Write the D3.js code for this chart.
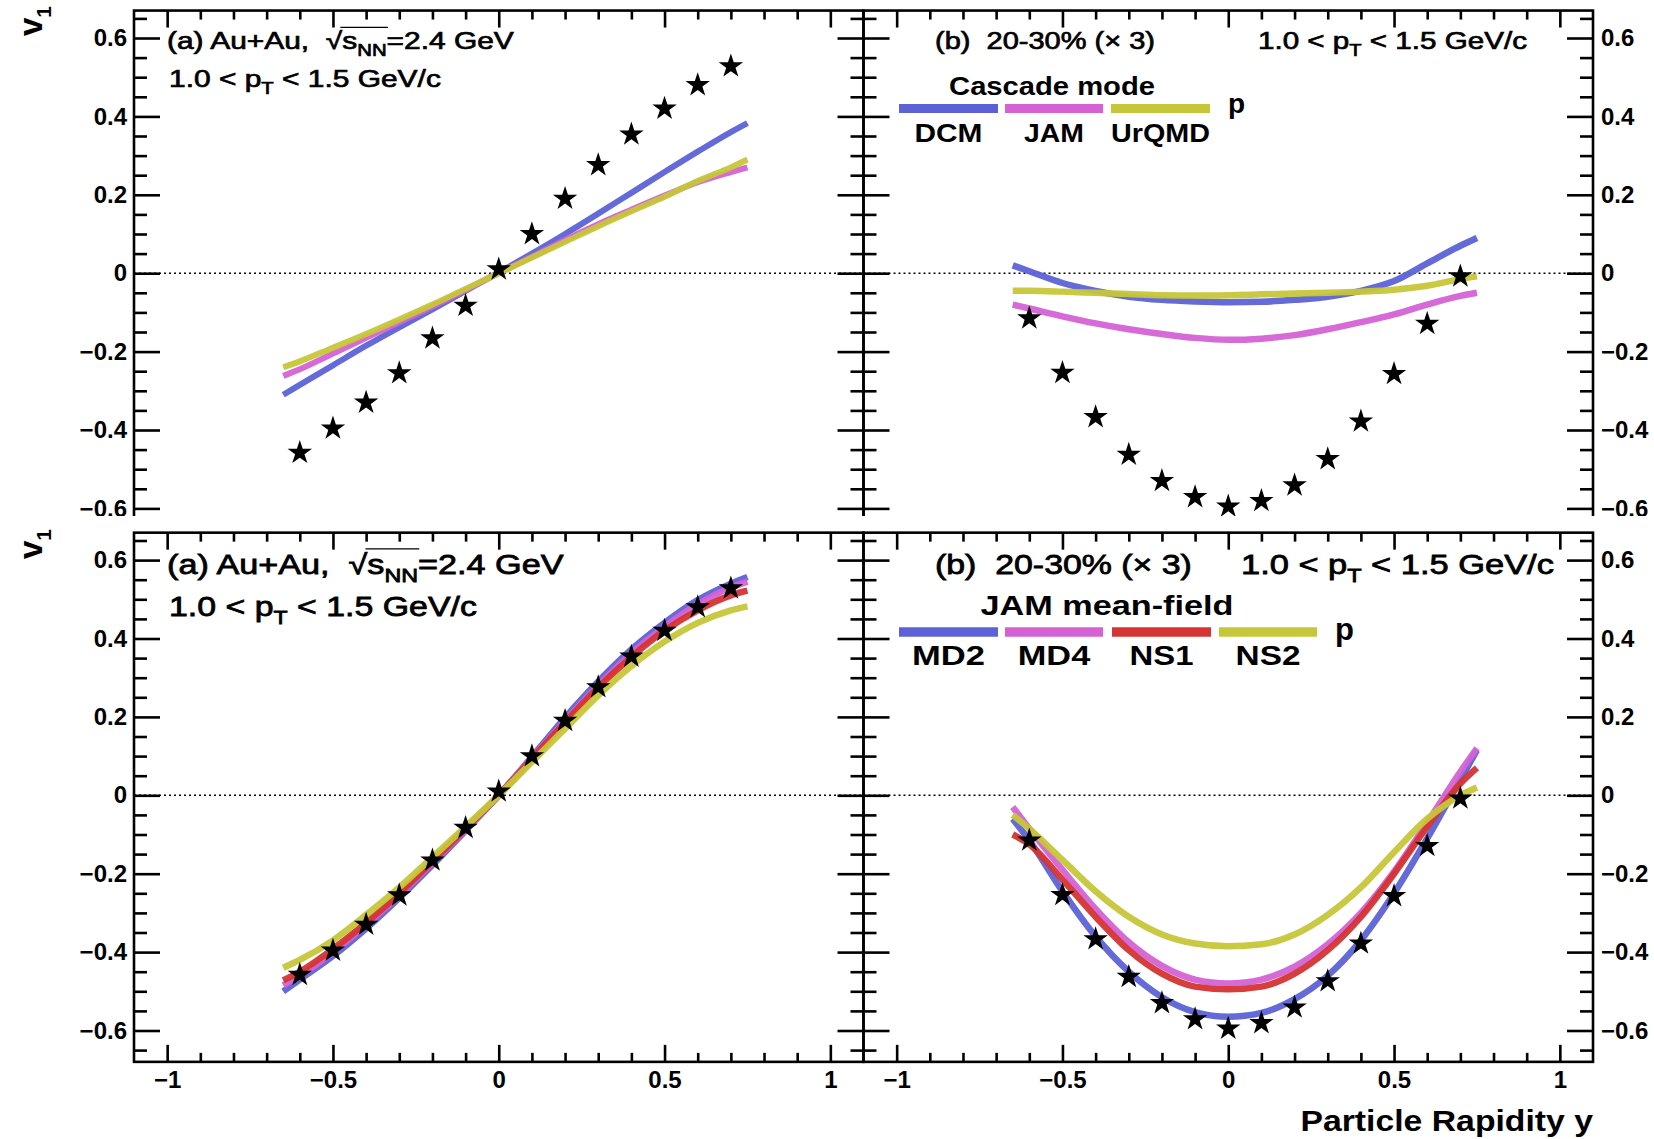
<!DOCTYPE html>
<html><head><meta charset="utf-8">
<script src="https://cdn.jsdelivr.net/npm/d3@7"></script>
<style>
html,body{margin:0;padding:0;background:#fff;}
svg{display:block;}
text{font-family:"Liberation Sans",Arial,Helvetica,sans-serif;}
</style></head><body>
<svg id="chart" width="1654" height="1139"></svg>
<script>
// ---------------- DATA ----------------
const rapidity = [-0.6,-0.5,-0.4,-0.3,-0.2,-0.1,0,0.1,0.2,0.3,0.4,0.5,0.6,0.7];
const starsPanelA = [-0.458,-0.396,-0.330,-0.255,-0.166,-0.083,0.010,0.100,0.190,0.276,0.354,0.420,0.480,0.528];
const starsPanelB = [-0.115,-0.254,-0.367,-0.463,-0.530,-0.571,-0.595,-0.581,-0.541,-0.474,-0.378,-0.257,-0.129,-0.008];

const modelRapidity = [-0.65,-0.6,-0.5,-0.4,-0.3,-0.2,-0.1,0,0.1,0.2,0.3,0.4,0.5,0.6,0.7,0.75];

// Cascade mode, panel (a)
const cascA_DCM   = [-0.310,-0.285,-0.235,-0.185,-0.138,-0.092,-0.045,0.002,0.050,0.100,0.152,0.205,0.258,0.310,0.360,0.383];
const cascA_JAM   = [-0.262,-0.245,-0.205,-0.165,-0.125,-0.085,-0.043,0.000,0.042,0.085,0.125,0.162,0.198,0.232,0.258,0.270];
const cascA_UrQMD = [-0.240,-0.225,-0.190,-0.155,-0.118,-0.080,-0.040,0.000,0.040,0.080,0.120,0.158,0.195,0.235,0.270,0.290];
// Cascade mode, panel (b)
const cascB_DCM   = [0.020,0.005,-0.025,-0.045,-0.060,-0.068,-0.072,-0.074,-0.073,-0.068,-0.060,-0.045,-0.020,0.025,0.070,0.090];
const cascB_JAM   = [-0.080,-0.090,-0.110,-0.128,-0.143,-0.155,-0.165,-0.170,-0.167,-0.158,-0.143,-0.125,-0.105,-0.080,-0.058,-0.050];
const cascB_UrQMD = [-0.045,-0.045,-0.047,-0.050,-0.053,-0.056,-0.057,-0.056,-0.054,-0.052,-0.050,-0.047,-0.042,-0.032,-0.015,-0.008];
// JAM mean-field, panel (a)
const mfA_MD2 = [-0.500,-0.470,-0.410,-0.340,-0.262,-0.178,-0.090,0.000,0.098,0.198,0.290,0.372,0.440,0.498,0.540,0.557];
const mfA_MD4 = [-0.485,-0.460,-0.400,-0.330,-0.255,-0.172,-0.087,0.000,0.095,0.190,0.280,0.362,0.430,0.487,0.530,0.545];
const mfA_NS1 = [-0.472,-0.450,-0.392,-0.325,-0.250,-0.168,-0.085,0.000,0.093,0.186,0.275,0.353,0.420,0.472,0.510,0.522];
const mfA_NS2 = [-0.440,-0.420,-0.370,-0.305,-0.235,-0.158,-0.080,0.000,0.085,0.170,0.255,0.330,0.392,0.440,0.472,0.482];
// JAM mean-field, panel (b)
const mfB_MD2 = [-0.060,-0.115,-0.245,-0.360,-0.450,-0.515,-0.553,-0.565,-0.555,-0.520,-0.460,-0.370,-0.250,-0.110,0.040,0.115];
const mfB_MD4 = [-0.030,-0.085,-0.190,-0.290,-0.375,-0.435,-0.470,-0.480,-0.470,-0.437,-0.380,-0.300,-0.195,-0.070,0.060,0.120];
const mfB_NS1 = [-0.100,-0.125,-0.215,-0.310,-0.395,-0.455,-0.488,-0.495,-0.488,-0.455,-0.395,-0.310,-0.200,-0.080,0.030,0.070];
const mfB_NS2 = [-0.050,-0.085,-0.165,-0.245,-0.310,-0.355,-0.378,-0.385,-0.380,-0.355,-0.305,-0.235,-0.145,-0.060,0.000,0.020];

const cascadeNames = ["DCM","JAM","UrQMD"];
const meanFieldNames = ["MD2","MD4","NS1","NS2"];
const yTickValues = [-0.6,-0.4,-0.2,0,0.2,0.4,0.6];
const xTickValues = [-1,-0.5,0,0.5,1];
const xDomain = [-1.1, 1.1];
const yDomain = [-0.68, 0.67];

// ---------------- STYLE / LAYOUT ----------------
const COL = {blue:"#5c62d6", magenta:"#d462d4", yellow:"#c6c63a", red:"#d43434"};
const cascColors = [COL.blue, COL.magenta, COL.yellow];
const mfColors = [COL.blue, COL.magenta, COL.red, COL.yellow];

const svg = d3.select("#chart");
const X0 = 134, XM = 863.5, X1 = 1593;
const PX = 392;
const rowZero = [273.2, 795.3];
const fmtY = d => d === 0 ? "0" : d3.format(".1f")(d);
const fmtX = d3.format("");
const NB = "\u00a0";

svg.append("defs").append("clipPath").attr("id","topclip")
  .append("rect").attr("x",0).attr("y",0).attr("width",1654).attr("height",516);

function richText(parent, parts, fs, weight, strokeW) {
  const t = parent.append("text").attr("font-size", fs).attr("font-weight", weight).attr("fill","#000");
  if (strokeW) t.attr("stroke","#000").attr("stroke-width",strokeW);
  let shift = 0;
  parts.forEach(p => {
    const ts = t.append("tspan").text(p.t);
    const target = p.sub ? fs*0.3 : 0;
    ts.attr("dy", target - shift);
    if (p.sub) ts.attr("font-size", fs*0.68);
    shift = target;
  });
  return t;
}
function place(parent, x, baseline, targetW, fs, parts, opts={}) {
  const g = parent.append("g");
  const t = richText(g, parts, fs, opts.weight || "normal", opts.stroke);
  if (opts.anchor) t.attr("text-anchor", opts.anchor);
  const w = t.node().getBBox().width;
  const s = targetW ? targetW / w : 1;
  g.attr("transform", `translate(${x},${baseline}) scale(${s},1)`);
  if (opts.overline) {
    const n = t.node();
    const a = n.getEndPositionOfChar(opts.overline[0]).x;
    const b = n.getEndPositionOfChar(opts.overline[1]).x + 1;
    g.append("line").attr("x1",a-1.5).attr("x2",b).attr("y1",-fs*0.9).attr("y2",-fs*0.9)
      .attr("stroke","#000").attr("stroke-width",1.3);
  }
  return g;
}

function drawPanel(root, row, side, series, colors, stars, lw, xLabels) {
  const xa = side === 0 ? X0 : XM, xb = side === 0 ? XM : X1;
  const x = d3.scaleLinear(xDomain, [xa, xb]);
  const z = rowZero[row];
  const y = d3.scaleLinear(yDomain, [z - yDomain[0]*PX, z - yDomain[1]*PX]);
  const [yb, yt] = y.range();
  const g = root.append("g");

  g.append("line").attr("x1",xa).attr("x2",xb).attr("y1",y(0)).attr("y2",y(0))
    .attr("stroke","#000").attr("stroke-width",1.5).attr("stroke-dasharray","2,3");

  const line = d3.line().x((d,i)=>x(modelRapidity[i])).y(d=>y(d)).curve(d3.curveMonotoneX);
  series.forEach((s,i) => {
    g.append("path").attr("d", line(s)).attr("fill","none")
      .attr("stroke", colors[i]).attr("stroke-width", lw).attr("stroke-linecap","butt")
      .attr("opacity",0.95);
  });

  const star = d3.symbol(d3.symbolStar).size(185);
  g.selectAll("path.star").data(stars).join("path").attr("class","star")
    .attr("d", star).attr("fill","#000")
    .attr("transform",(d,i)=>`translate(${x(rapidity[i])},${y(d)})`);

  const minorY = d3.range(-0.65, 0.66, 0.05).filter(v => Math.abs(Math.round(v*100) % 20) !== 0);
  const minorX = d3.range(-1.0, 1.05, 0.1).filter(v => Math.abs(Math.round(v*10) % 5) !== 0);
  const style = sel => {
    sel.select(".domain").remove();
    sel.selectAll(".tick line").attr("stroke","#000").attr("stroke-width",2.6);
    sel.selectAll(".tick text").attr("font-size",24).attr("font-weight","bold")
      .attr("font-family",'"Liberation Sans",Arial,sans-serif').attr("fill","#000");
  };
  g.append("g").attr("transform",`translate(${xa},0)`)
    .call(d3.axisLeft(y).tickValues(yTickValues).tickSize(-26).tickPadding(7)
      .tickFormat(side===0 ? fmtY : ()=>"")).call(style);
  g.append("g").attr("transform",`translate(${xa},0)`)
    .call(d3.axisLeft(y).tickValues(minorY).tickSize(-13).tickFormat(()=>"")).call(style);
  g.append("g").attr("transform",`translate(${xb},0)`)
    .call(d3.axisRight(y).tickValues(yTickValues).tickSize(-26).tickPadding(8)
      .tickFormat(side===1 ? fmtY : ()=>"")).call(style);
  g.append("g").attr("transform",`translate(${xb},0)`)
    .call(d3.axisRight(y).tickValues(minorY).tickSize(-13).tickFormat(()=>"")).call(style);
  g.append("g").attr("transform",`translate(0,${yt})`)
    .call(d3.axisTop(x).tickValues(xTickValues).tickSize(-17).tickFormat(()=>"")).call(style);
  g.append("g").attr("transform",`translate(0,${yt})`)
    .call(d3.axisTop(x).tickValues(minorX).tickSize(-9).tickFormat(()=>"")).call(style);
  g.append("g").attr("transform",`translate(0,${yb})`)
    .call(d3.axisBottom(x).tickValues(xTickValues).tickSize(-17).tickPadding(9)
      .tickFormat(xLabels ? fmtX : ()=>"")).call(style);
  g.append("g").attr("transform",`translate(0,${yb})`)
    .call(d3.axisBottom(x).tickValues(minorX).tickSize(-9).tickFormat(()=>"")).call(style);

  g.append("rect").attr("x",xa).attr("y",yt).attr("width",xb-xa).attr("height",yb-yt)
    .attr("fill","none").attr("stroke","#000").attr("stroke-width",2.6);
  return {x, y};
}

// ---------- Top row (cascade mode), clipped ----------
const topRow = svg.append("g").attr("clip-path","url(#topclip)");
drawPanel(topRow, 0, 0, [cascA_DCM, cascA_JAM, cascA_UrQMD], cascColors, starsPanelA, 6, false);
drawPanel(topRow, 0, 1, [cascB_DCM, cascB_JAM, cascB_UrQMD], cascColors, starsPanelB, 6.5, false);

// ---------- Bottom row (JAM mean-field) ----------
const botRow = svg.append("g");
drawPanel(botRow, 1, 0, [mfA_MD2, mfA_MD4, mfA_NS1, mfA_NS2], mfColors, starsPanelA, 6.5, true);
drawPanel(botRow, 1, 1, [mfB_MD2, mfB_MD4, mfB_NS1, mfB_NS2], mfColors, starsPanelB, 6.5, true);

// ---------- Texts ----------
const sqrtParts = [{t:"(a) Au+Au," + NB + NB},{t:"√"},{t:"s"},{t:"NN",sub:true},{t:"=2.4 GeV"}];
const ptParts = [{t:"1.0 < p"},{t:"T",sub:true},{t:" < 1.5 GeV/c"}];
const bParts = [{t:"(b)" + NB + NB + "20-30% (× 3)"}];

place(svg, 167, 49, 347, 24, sqrtParts, {stroke:0.7, overline:[12,15]});
place(svg, 169, 87, 272, 24, ptParts, {stroke:0.7});
place(svg, 935, 49, 220, 24, bParts, {stroke:0.7});
place(svg, 1258, 49, 269, 24, ptParts, {stroke:0.7});
place(svg, 1052, 95, 206, 25, [{t:"Cascade mode"}], {weight:"bold", anchor:"middle"});
place(svg, 1228, 113, null, 28, [{t:"p"}], {weight:"bold"});

place(svg, 167, 574, 397, 28, sqrtParts, {stroke:0.8, overline:[12,15]});
place(svg, 169, 616, 308, 28, ptParts, {stroke:0.8});
place(svg, 935, 574, 257, 28, bParts, {stroke:0.8});
place(svg, 1241, 574, 313, 28, ptParts, {stroke:0.8});
place(svg, 1107, 615, 253, 28, [{t:"JAM mean-field"}], {weight:"bold", anchor:"middle"});
place(svg, 1335, 640, null, 31, [{t:"p"}], {weight:"bold"});

const cascLegX = [[899,998],[1005,1103],[1111,1210]];
const cascLabelW = [68,60,99];
cascadeNames.forEach((n,i) => {
  svg.append("line").attr("x1",cascLegX[i][0]).attr("x2",cascLegX[i][1]).attr("y1",108.5).attr("y2",108.5)
    .attr("stroke",cascColors[i]).attr("stroke-width",9);
  place(svg, (cascLegX[i][0]+cascLegX[i][1])/2, 142, cascLabelW[i], 25, [{t:n}], {weight:"bold", anchor:"middle"});
});
const mfLegX = [[899,998],[1005,1103],[1112,1211],[1219,1317]];
const mfLabelW = [73,73,64,65];
meanFieldNames.forEach((n,i) => {
  svg.append("line").attr("x1",mfLegX[i][0]).attr("x2",mfLegX[i][1]).attr("y1",632).attr("y2",632)
    .attr("stroke",mfColors[i]).attr("stroke-width",9.5);
  place(svg, (mfLegX[i][0]+mfLegX[i][1])/2, 665, mfLabelW[i], 28, [{t:n}], {weight:"bold", anchor:"middle"});
});

[6, 529].forEach(yy => {
  const t = svg.append("text").attr("transform",`translate(42,${yy}) rotate(-90)`)
    .attr("text-anchor","end").attr("font-size",33).attr("font-weight","bold");
  t.append("tspan").text("v");
  t.append("tspan").text("1").attr("font-size",21).attr("dy",9);
});
place(svg, 1593, 1131, 293, 30, [{t:"Particle Rapidity y"}], {weight:"bold", anchor:"end"});
</script>
</body></html>
